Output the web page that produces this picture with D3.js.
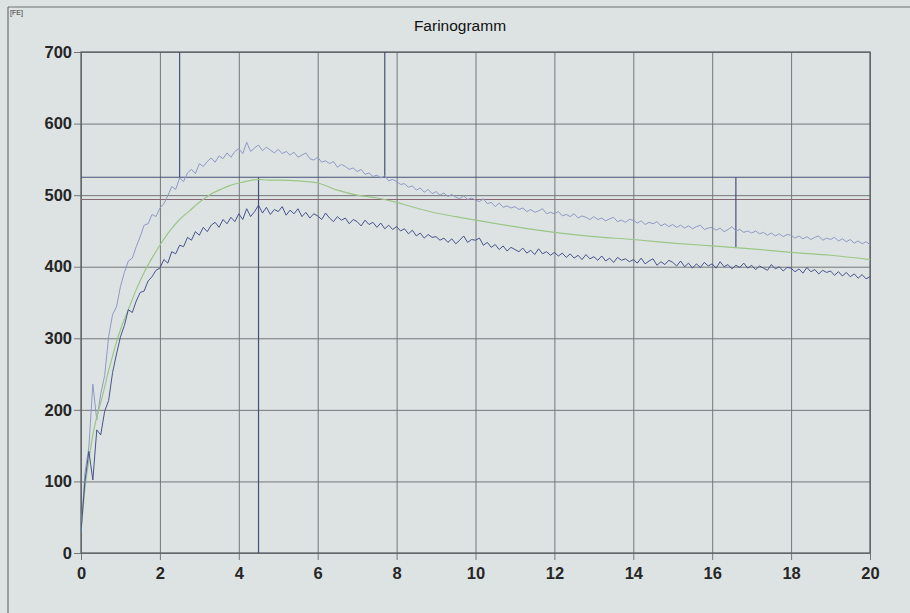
<!DOCTYPE html>
<html><head><meta charset="utf-8">
<script src="https://cdn.jsdelivr.net/npm/d3@7"></script>
<style>html,body{margin:0;padding:0;background:#dde3e3;}svg{display:block;font-family:"Liberation Sans",Arial,sans-serif;}</style>
</head><body><svg id="c" width="910" height="613"></svg>
<script>
// ---- data ----
const title = "Farinogramm";
const unitLabel = "[FE]";
const xTicks = [0,2,4,6,8,10,12,14,16,18,20];
const yTicks = [0,100,200,300,400,500,600,700];
const step = 0.1; // minutes between samples of the noisy curves
const upperCurve = [
30,112,148,236,186,222,248,302,333,344,
372,392,408,412,428,442,458,460,473,470,
482,488,499,512,508,524,519,531,536,530,
544,540,547,552,546,555,551,559,553,561,
565,558,574,561,566,570,562,567,563,559,
564,558,561,556,560,553,556,559,551,549,
553,546,548,544,547,539,543,540,536,538,
533,536,529,531,526,528,524,527,520,522,
519,515,516,511,513,507,510,504,508,502,
505,500,503,498,501,497,495,499,494,496,
493,491,495,488,490,484,489,483,485,482,
484,480,482,477,480,476,478,481,474,476,
474,477,471,473,470,474,468,471,469,466,
470,466,468,464,467,469,463,465,462,466,
465,461,464,459,462,460,463,457,460,456,
459,455,458,454,457,453,456,458,452,454,
455,451,454,449,452,456,450,452,448,450,
447,450,446,448,444,447,443,446,442,445,
444,440,443,439,442,438,441,443,437,440,
438,441,436,439,435,438,433,436,432,435,
431];
const lowerCurve = [
30,100,142,102,172,165,198,213,252,278,
302,318,340,336,352,364,366,380,386,395,
398,410,405,421,418,430,428,441,437,449,
444,455,449,458,462,455,466,460,469,463,
474,466,481,470,477,486,475,483,473,480,
477,484,472,479,474,481,470,476,468,474,
471,466,475,468,463,470,465,468,460,466,
463,457,465,459,462,455,461,453,458,452,
456,450,453,446,451,443,447,440,445,441,
442,437,440,434,439,432,437,443,434,438,
437,440,430,434,427,431,424,429,422,427,
424,421,426,419,423,417,425,418,421,416,
420,415,419,413,418,412,416,410,417,411,
414,409,415,408,412,406,413,409,411,407,
410,405,412,404,408,411,402,407,403,409,
406,401,408,400,405,398,404,399,406,401,
404,398,407,400,403,397,402,399,405,398,
402,396,401,398,395,403,397,400,394,399,
398,393,397,391,399,393,396,390,395,392,
394,388,393,387,392,386,390,384,389,383,
386];
const meanX = [0,0.1,0.2,0.3,0.4,0.5,0.6,0.7,0.8,0.9,1.0,1.2,1.4,1.6,1.8,2.0,2.25,2.5,2.75,3.0,3.25,3.5,3.75,4.0,4.25,4.5,4.75,5.0,5.5,6.0,6.5,7.0,7.5,8.0,8.5,9.0,9.5,10,11,12,13,14,15,16,17,18,19,20];
const meanY = [30,90,130,165,190,210,232,255,275,295,312,340,368,392,412,430,450,466,478,490,500,507,513,517,520,522,521,521,520,517,507,500,496,490,482,475,470,465,456,448,442,438,433,429,425,420,416,410];
// evaluation marker lines: [x1,y1,x2,y2] in data units
const markerLines = [
  [0,525,20,525],
  [2.5,700,2.5,525],
  [4.5,525,4.5,0],
  [7.7,700,7.7,525],
  [16.6,525,16.6,427]
];
const refLine = 494;

// ---- drawing ----
const svg = d3.select("#c");
const L=81,R=870,T=52,B=553;
const x = d3.scaleLinear().domain([0,20]).range([L,R]);
const y = d3.scaleLinear().domain([0,700]).range([B,T]);

// outer frame
svg.append("line").attr("x1",8).attr("x2",910).attr("y1",7).attr("y2",7).attr("stroke","#6d7072").attr("stroke-width",1.2);
svg.append("line").attr("x1",8).attr("x2",8).attr("y1",7).attr("y2",613).attr("stroke","#6d7072").attr("stroke-width",1.2);
svg.append("text").attr("x",10).attr("y",15).attr("font-size",7).attr("fill","#333").text(unitLabel);
svg.append("text").attr("x",460).attr("y",31).attr("text-anchor","middle").attr("font-size",15.5).attr("fill","#111").text(title);

// grid via axes
const gx = svg.append("g").attr("transform",`translate(0,${B})`)
  .call(d3.axisBottom(x).tickValues(xTicks).tickSize(-(B-T)).tickPadding(12).tickFormat(d3.format("d")));
const gy = svg.append("g").attr("transform",`translate(${L},0)`)
  .call(d3.axisLeft(y).tickValues(yTicks).tickSize(-(R-L)).tickPadding(9).tickFormat(d3.format("d")));
[gx,gy].forEach(g=>{
  g.select(".domain").remove();
  g.selectAll(".tick line").attr("stroke","#73777a").attr("stroke-width",1);
  g.selectAll(".tick text").attr("font-size",16.5).attr("font-weight","bold").attr("fill","#262626").attr("font-family","Liberation Sans, Arial, sans-serif");
});
// small tick extensions outside plot
gx.selectAll(".tick").append("line").attr("y1",0).attr("y2",7).attr("stroke","#73777a");
gy.selectAll(".tick").append("line").attr("x1",0).attr("x2",-7).attr("stroke","#73777a");
gx.selectAll(".tick text").attr("dy","0.85em");
// plot border
svg.append("rect").attr("x",L).attr("y",T).attr("width",R-L).attr("height",B-T).attr("fill","none").attr("stroke","#5e6164").attr("stroke-width",1.3);

// reference line
svg.append("line").attr("x1",x(0)).attr("x2",x(20)).attr("y1",y(refLine)).attr("y2",y(refLine)).attr("stroke","#8a6670").attr("stroke-width",1.1);
// marker lines
svg.selectAll(".mk").data(markerLines).enter().append("line")
  .attr("x1",d=>x(d[0])).attr("y1",d=>y(d[1])).attr("x2",d=>x(d[2])).attr("y2",d=>y(d[3]))
  .attr("stroke","#46507a").attr("stroke-width",1.2);

// curves
const line = d3.line().x(d=>x(d[0])).y(d=>y(d[1]));
const up = upperCurve.map((v,i)=>[i*step,v]);
const lo = lowerCurve.map((v,i)=>[i*step,v]);
const mean = meanX.map((v,i)=>[v,meanY[i]]);
svg.append("path").attr("d",line(up)).attr("fill","none").attr("stroke","#8f99c6").attr("stroke-width",1);
svg.append("path").attr("d",d3.line().x(d=>x(d[0])).y(d=>y(d[1])).curve(d3.curveMonotoneX)(mean)).attr("fill","none").attr("stroke","#9cc686").attr("stroke-width",1.2);
svg.append("path").attr("d",line(lo)).attr("fill","none").attr("stroke","#46538c").attr("stroke-width",1);
</script></body></html>
